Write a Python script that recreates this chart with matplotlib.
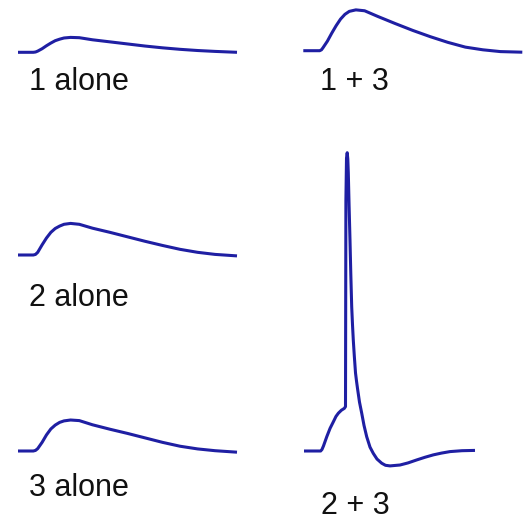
import matplotlib
matplotlib.use("Agg")
import matplotlib.pyplot as plt

# ---------------- data (time in ms, membrane potential in mV) ----------------
t_1 = [0, 7, 8, 9, 11, 13, 15, 17, 19, 21, 24, 28, 34, 42, 50, 58, 66, 74, 82, 90, 100]
v_1 = [-70, -70, -69.9, -69.6, -68.8, -67.8, -66.9, -66.1, -65.6, -65.2, -65.0,
       -65.1, -65.8, -66.5, -67.2, -67.9, -68.5, -69.0, -69.4, -69.7, -70.0]

t_2 = [0, 7, 8, 9, 11, 13, 15, 17, 19, 21, 24, 28, 34, 42, 50, 58, 66, 74, 82, 90, 100]
v_2 = [-70, -70, -69.8, -69.1, -66.6, -64.3, -62.4, -61.1, -60.3, -59.7, -59.4,
       -59.7, -61.0, -62.4, -63.9, -65.4, -66.8, -68.1, -69.1, -69.8, -70.3]

t_3 = [0, 7, 8, 9, 11, 13, 15, 17, 19, 21, 24, 28, 34, 42, 50, 58, 66, 74, 82, 90, 100]
v_3 = [-70, -70, -69.8, -69.2, -67.1, -64.6, -62.6, -61.3, -60.4, -59.9, -59.6,
       -59.8, -61.2, -62.7, -64.1, -65.6, -67.1, -68.4, -69.3, -69.9, -70.4]

t_13 = [0, 7.5, 8.3, 9, 11, 13, 15, 17, 19, 21, 24, 28, 34, 42, 50, 58, 66, 74, 82,
        90, 100]
v_13 = [-70, -70, -69.7, -69.0, -66.8, -64.1, -61.6, -59.4, -57.8, -56.8, -56.3,
        -56.6, -58.5, -60.9, -63.2, -65.3, -67.2, -68.8, -69.7, -70.3, -70.5]

t_23 = [0, 7.6, 8.2, 8.9, 10.4, 11.9, 13.4, 14.6, 15.7, 17.1, 18.4, 18.95, 19.04,
        19.13, 19.41, 19.73, 20.0, 20.23, 20.59, 21.0, 21.37, 21.78, 22.15, 22.51,
        22.97, 23.52, 23.97, 24.43, 25.34, 26.35, 27.40, 28.63, 30.14, 31.64, 33.33,
        35.48, 37.21, 39.27, 43.84, 47.49, 51.46, 55.25, 59.04, 62.79, 66.67, 72.15,
        78.08]
v_23 = [-70, -70, -69.5, -68.3, -65.2, -62.4, -60.2, -58.4, -57.3, -56.3, -55.7,
        -55.1, -19.7, 13.9, 28.3, 30.1, 28.0, 23.3, 12.2, 0.8, -10.6, -21.6, -27.7,
        -32.8, -38.1, -43.8, -46.5, -49.0, -53.6, -57.3, -61.4, -65.2, -68.7, -70.8,
        -72.7, -74.1, -74.8, -75.0, -74.7, -74.0, -73.0, -72.1, -71.3, -70.7, -70.2,
        -69.9, -69.8]

labels = ["1 alone", "2 alone", "3 alone", "1 + 3", "2 + 3"]

# ---------------- layout ----------------
W, H = 523, 520
SX = 2.19   # px per ms
SY = 2.98   # px per mV
V_REST = -70
COLOR = "#1f1fa3"

fig = plt.figure(figsize=(W / 100, H / 100), dpi=100)
fig.patch.set_facecolor("white")

panels = [
    (t_1, v_1, 18.0, 52.3),
    (t_2, v_2, 18.0, 255.0),
    (t_3, v_3, 18.0, 451.0),
    (t_13, v_13, 303.3, 50.7),
    (t_23, v_23, 304.0, 451.0),
]

for t, v, x0, yb in panels:
    ax = fig.add_axes([0, 0, 1, 1])
    ax.set_xlim(-x0 / SX, (W - x0) / SX)
    ax.set_ylim(V_REST - (H - yb) / SY, V_REST + yb / SY)
    ax.axis("off")
    ax.patch.set_visible(False)
    ax.plot(t, v, color=COLOR, lw=2.2, solid_joinstyle="round",
            solid_capstyle="butt")

label_pos = [(29, 90.5), (29, 306.0), (29, 496.5), (320, 90.5), (321, 513.5)]
for (lx, ly), txt in zip(label_pos, labels):
    fig.text(lx / W, 1 - ly / H, txt, fontsize=22, family="Liberation Sans",
             color="#111111", ha="left", va="baseline")

fig.savefig("out.png", dpi=100, facecolor="white")
